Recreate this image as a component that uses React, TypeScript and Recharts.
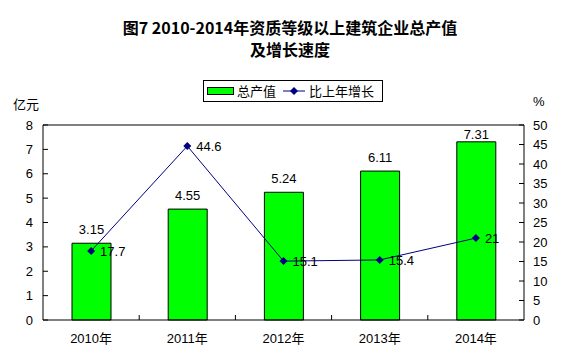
import React from "react";
import {
  ComposedChart,
  Bar,
  Line,
  XAxis,
  YAxis,
  LabelList,
  ReferenceLine,
} from "recharts";

document.body.style.margin = "0";

const years = ["2010年", "2011年", "2012年", "2013年", "2014年"];
const output = [3.15, 4.55, 5.24, 6.11, 7.31];
const growth = [17.7, 44.6, 15.1, 15.4, 21];
const leftTicks = [0, 1, 2, 3, 4, 5, 6, 7, 8];
const rightTicks = [0, 5, 10, 15, 20, 25, 30, 35, 40, 45, 50];
const seriesNames = ["总产值", "比上年增长"];

const data = years.map((year, i) => ({ year, output: output[i], growth: growth[i] }));

const W = 580;
const H = 362;
const PLOT_LEFT = 43;
const PLOT_RIGHT = 524;
const PLOT_TOP = 125;
const PLOT_BOTTOM = 320;
const BAND = (PLOT_RIGHT - PLOT_LEFT) / years.length;

const FONT = '"Liberation Sans", Arial, "Noto Sans CJK SC", sans-serif';
const CJK = '"Noto Sans CJK SC", "Liberation Sans", sans-serif';
const GREEN = "#00FF00";
const NAVY = "#000080";

function LeftTick({ y, payload }: any) {
  return (
    <g>
      <line x1={PLOT_LEFT} x2={PLOT_LEFT + 5} y1={y} y2={y} stroke="#000" />
      <text x={33} y={y} dy={4.5} textAnchor="end" fontSize={13} fontFamily={FONT} fill="#000">
        {payload.value}
      </text>
    </g>
  );
}

function RightTick({ y, payload }: any) {
  return (
    <g>
      <line x1={PLOT_RIGHT - 5} x2={PLOT_RIGHT} y1={y} y2={y} stroke="#000" />
      <text x={533} y={y} dy={4.5} textAnchor="start" fontSize={13} fontFamily={FONT} fill="#000">
        {payload.value}
      </text>
    </g>
  );
}

function XTick({ x, payload, index }: any) {
  return (
    <g>
      {index < years.length - 1 && (
        <line
          x1={x + BAND / 2}
          x2={x + BAND / 2}
          y1={PLOT_BOTTOM}
          y2={PLOT_BOTTOM - 5}
          stroke="#000"
        />
      )}
      <text x={x} y={343} textAnchor="middle" fontSize={13} fontFamily={FONT} fill="#000">
        {payload.value}
      </text>
    </g>
  );
}

function Diamond({ cx, cy }: any) {
  if (cx == null || cy == null) return null;
  return (
    <path
      d={`M${cx},${cy - 4}L${cx + 4},${cy}L${cx},${cy + 4}L${cx - 4},${cy}Z`}
      fill={NAVY}
    />
  );
}

function BarLabel({ x, y, width, value }: any) {
  // keep the label inside the plot box when the bar is near the top
  const ty = Math.max(y - 9, PLOT_TOP + 14);
  return (
    <text x={x + width / 2} y={ty} textAnchor="middle" fontSize={13} fontFamily={FONT} fill="#000">
      {value}
    </text>
  );
}

function Legend() {
  return (
    <div
      style={{
        position: "absolute",
        left: 203,
        top: 80,
        width: 178,
        height: 20,
        border: "1px solid #000",
        background: "#fff",
        display: "flex",
        alignItems: "center",
        fontFamily: CJK,
        fontSize: 13,
        lineHeight: "20px",
      }}
    >
      <span
        style={{
          display: "inline-block",
          width: 25,
          height: 6,
          background: GREEN,
          border: "1px solid #000",
          marginLeft: 3,
          marginRight: 3,
        }}
      />
      <span>{seriesNames[0]}</span>
      <svg width={24} height={20} style={{ marginLeft: 6, marginRight: 3 }}>
        <line x1={1} x2={23} y1={10} y2={10} stroke={NAVY} />
        <path d="M12,6L16,10L12,14L8,10Z" fill={NAVY} />
      </svg>
      <span>{seriesNames[1]}</span>
    </div>
  );
}

export default function App() {
  return (
    <div style={{ position: "relative", width: W, height: H, background: "#fff" }}>
      <div
        style={{
          position: "absolute",
          top: 16,
          left: 0,
          width: W,
          textAlign: "center",
          fontFamily: CJK,
          fontWeight: 700,
          fontSize: 16,
          lineHeight: "22px",
          color: "#000",
        }}
      >
        <div>图7 2010-2014年资质等级以上建筑企业总产值</div>
        <div>及增长速度</div>
      </div>
      <div style={{ position: "absolute", left: 13, top: 94, fontFamily: CJK, fontSize: 13 }}>亿元</div>
      <div style={{ position: "absolute", left: 533, top: 94, fontFamily: FONT, fontSize: 13 }}>%</div>
      <Legend />
      <div style={{ position: "absolute", left: 0, top: 0 }}>
        <ComposedChart
          width={W}
          height={H}
          data={data}
          margin={{ top: PLOT_TOP, left: 0, right: 0, bottom: 0 }}
        >
          <XAxis
            dataKey="year"
            height={H - PLOT_BOTTOM}
            stroke="#000"
            tickLine={false}
            tick={<XTick />}
            interval={0}
          />
          <YAxis
            yAxisId="left"
            width={PLOT_LEFT}
            domain={[0, 8]}
            ticks={leftTicks}
            stroke="#000"
            tickLine={false}
            tick={<LeftTick />}
            interval={0}
          />
          <YAxis
            yAxisId="right"
            orientation="right"
            width={W - PLOT_RIGHT}
            domain={[0, 50]}
            ticks={rightTicks}
            stroke="#000"
            tickLine={false}
            tick={<RightTick />}
            interval={0}
          />
          <ReferenceLine yAxisId="left" y={8} stroke="#000" />
          <Bar
            yAxisId="left"
            dataKey="output"
            name={seriesNames[0]}
            fill={GREEN}
            stroke="#000"
            strokeWidth={1}
            barSize={39}
            isAnimationActive={false}
          >
            <LabelList dataKey="output" content={<BarLabel />} />
          </Bar>
          <Line
            yAxisId="right"
            dataKey="growth"
            name={seriesNames[1]}
            type="linear"
            stroke={NAVY}
            strokeWidth={1}
            dot={<Diamond />}
            activeDot={false}
            isAnimationActive={false}
          >
            <LabelList
              dataKey="growth"
              position="right"
              offset={9}
              fontSize={13}
              fontFamily={FONT}
              fill="#000"
            />
          </Line>
        </ComposedChart>
      </div>
    </div>
  );
}
